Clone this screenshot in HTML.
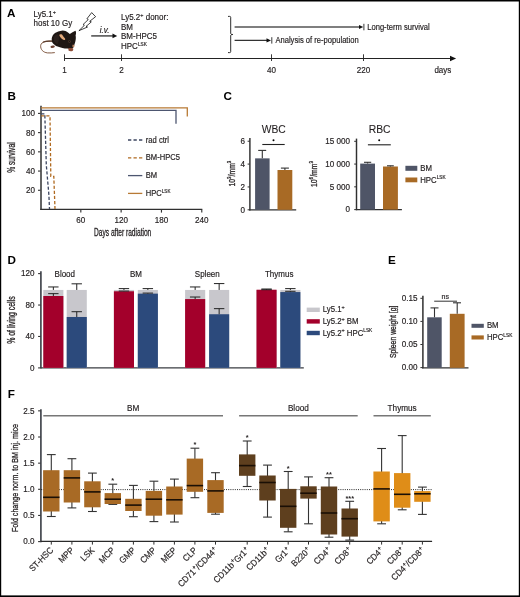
<!DOCTYPE html>
<html><head><meta charset="utf-8"><style>
html,body{margin:0;padding:0;background:#fff;}
body{width:520px;height:597px;overflow:hidden;}
svg{display:block;will-change:transform;font-family:"Liberation Sans",sans-serif;}
</style></head><body>
<svg width="520" height="597" viewBox="0 0 520 597">
<rect x="0" y="0" width="520" height="597" fill="#fff"/>
<text x="7" y="17.2" font-size="11.7" text-anchor="start" font-weight="bold"  fill="#000" >A</text>
<text x="33.5" y="17.2" font-size="8.8" text-anchor="start" font-weight="normal"  fill="#231f20" stroke="#231f20" stroke-width="0.18"  transform="matrix(0.91,0,0,1,3.015,0)">Ly5.1<tspan font-size="6" baseline-shift="3.2">+</tspan></text>
<text x="33.5" y="26.3" font-size="8.8" text-anchor="start" font-weight="normal"  fill="#231f20" stroke="#231f20" stroke-width="0.18"  transform="matrix(0.91,0,0,1,3.015,0)">host 10 Gy</text>
<g>
<path d="M52.5,41.2 C47,40.8 41.2,41.6 40.7,45.4 C40.3,49.4 43,52.4 47.5,52.9 C50,53.1 52.5,52.9 54.8,52.6" fill="none" stroke="#7a5038" stroke-width="0.95"/>
<path d="M52.5,41.2 C49,40.9 45.5,41 43.5,42" fill="none" stroke="#5a3a2a" stroke-width="1.3" stroke-linecap="round"/>
<path d="M51.7,38.7 C51.9,36.8 53,34.3 55.4,32.8 C57,31.7 59,30.9 62.8,30.4 C64.5,30.4 66.5,31.2 68.3,32.8 L69.8,34.1 C71.5,32.8 73.5,31.6 75.4,30.8 C76.2,31.5 76.2,33.5 75.6,35.6 C76,37 75.9,39.5 75.4,41.2 C75.1,42.4 74.8,43.4 74.5,44.2 C74.2,45.3 74,46 73.8,46.7 C73.4,47.4 73,47.9 72.6,48.2 L68.3,48.8 C67.8,48.7 67.4,48.6 67,48.6 C65.5,48.4 64,48.2 62.5,47.9 C60.7,47.5 59,47.1 57.6,46.6 C56.4,46.1 55.5,45.5 54.8,44.9 C53.6,44.1 52.8,43.4 52.3,42.4 C51.9,41.3 51.6,40 51.7,38.7 Z" fill="#1f1714"/>
<path d="M54,37 C55,35 57,34 58.5,35 C59.5,38 59,41.5 57.5,44 C56,44 54.5,42.5 54,40.5 Z" fill="#3a2e2a" opacity="0.45"/>
<path d="M59.3,34.8 C59.8,34 61.2,33.9 62,34.6 C62.8,36 63.8,37.3 65,38.4 C65.6,39.2 65,40.1 64,39.9 C62.4,39.5 61,38.2 60,36.8 C59.6,36.2 59.3,35.5 59.3,34.8 Z" fill="#e2a97b"/>
<path d="M72.4,44.8 C73.3,44.4 74.6,44.9 74.5,46.1 C74.3,47.2 73.3,47.6 72.5,47.1 Z" fill="#b8805e"/>
<path d="M68.3,48.3 C69.6,47.9 71.2,48 72.8,48.3 C73.6,48.8 73.4,50.4 72.4,51.1 C71,51.6 69.3,51.4 68.5,50.6 Z" fill="#8e4d38"/>
<path d="M50.5,46.4 C51.4,45.4 53.5,45.3 54.8,45.9 C55,47.2 53.8,47.9 52.2,47.9 C51,47.9 50.3,47.3 50.5,46.4 Z" fill="#6b3f30"/>
<circle cx="69.5" cy="41.4" r="1.25" fill="#4e3a2e"/>
<circle cx="69.5" cy="41.4" r="0.6" fill="#1a1210"/>
</g>
<path d="M91.7,12.6 L95.6,16.7 L89.7,21.3 L91.3,21.9 L86,26.5 L87.5,27 L78.9,30.7 L84.4,25.3 L83,24.6 L88.3,19.5 L86.9,18.8 Z" fill="#fff" stroke="#000" stroke-width="0.75" stroke-linejoin="miter"/>
<text x="99.8" y="33" font-size="8.8" text-anchor="start" font-weight="normal" font-style="italic" fill="#231f20" stroke="#231f20" stroke-width="0.18"  transform="matrix(0.91,0,0,1,8.982,0)">i.v.</text>
<line x1="91.2" y1="35.9" x2="113.5" y2="35.9" stroke="#555" stroke-width="1.6" />
<path d="M112.5,33.6 L117.2,35.9 L112.5,38.2 Z" fill="#111"/>
<text x="121" y="20.2" font-size="8.8" text-anchor="start" font-weight="normal"  fill="#231f20" stroke="#231f20" stroke-width="0.18"  transform="matrix(0.91,0,0,1,10.89,0)">Ly5.2<tspan font-size="6" baseline-shift="3.2">+</tspan> donor:</text>
<text x="121" y="29.8" font-size="8.8" text-anchor="start" font-weight="normal"  fill="#231f20" stroke="#231f20" stroke-width="0.18"  transform="matrix(0.91,0,0,1,10.89,0)">BM</text>
<text x="121" y="39.3" font-size="8.8" text-anchor="start" font-weight="normal"  fill="#231f20" stroke="#231f20" stroke-width="0.18"  transform="matrix(0.91,0,0,1,10.89,0)">BM-HPC5</text>
<text x="121" y="48.7" font-size="8.8" text-anchor="start" font-weight="normal"  fill="#231f20" stroke="#231f20" stroke-width="0.18"  transform="matrix(0.91,0,0,1,10.89,0)">HPC<tspan font-size="5.2" baseline-shift="3.2">LSK</tspan></text>
<path d="M228,16.4 H229.7 Q230.7,16.4 230.7,17.4 V33.6 Q230.7,34.4 232.8,34.5 Q230.7,34.6 230.7,35.4 V51.6 Q230.7,52.6 229.7,52.6 H228" fill="none" stroke="#222" stroke-width="0.95"/>
<line x1="234.6" y1="27" x2="360.5" y2="27" stroke="#555" stroke-width="1.3" />
<path d="M359,24.9 L363.3,27 L359,29.1 Z" fill="#111"/>
<line x1="363.9" y1="23.8" x2="363.9" y2="30.3" stroke="#222" stroke-width="0.9" />
<text x="367.2" y="29.8" font-size="8.36" text-anchor="start" font-weight="normal"  fill="#231f20" stroke="#231f20" stroke-width="0.18"  transform="matrix(0.91,0,0,1,33.048,0)">Long-term survival</text>
<line x1="234.6" y1="40.4" x2="268" y2="40.4" stroke="#333" stroke-width="1.1" />
<path d="M266.5,38.3 L271,40.4 L266.5,42.5 Z" fill="#111"/>
<line x1="271.8" y1="37.2" x2="271.8" y2="43.6" stroke="#222" stroke-width="0.9" />
<text x="275.4" y="43.1" font-size="8.36" text-anchor="start" font-weight="normal"  fill="#231f20" stroke="#231f20" stroke-width="0.18"  transform="matrix(0.91,0,0,1,24.786,0)">Analysis of re-population</text>
<line x1="64.5" y1="58.5" x2="452.5" y2="58.5" stroke="#222" stroke-width="1.1" />
<path d="M450,55.8 L456.1,58.5 L450,61.2 Z" fill="#111"/>
<line x1="64.5" y1="54.3" x2="64.5" y2="61" stroke="#222" stroke-width="0.9" />
<text x="64.5" y="72.8" font-size="8.91" text-anchor="middle" font-weight="normal"  fill="#231f20" stroke="#231f20" stroke-width="0.18"  transform="matrix(0.91,0,0,1,5.805,0)">1</text>
<line x1="121.5" y1="54.3" x2="121.5" y2="61" stroke="#222" stroke-width="0.9" />
<text x="121.5" y="72.8" font-size="8.91" text-anchor="middle" font-weight="normal"  fill="#231f20" stroke="#231f20" stroke-width="0.18"  transform="matrix(0.91,0,0,1,10.935,0)">2</text>
<line x1="271.5" y1="54.3" x2="271.5" y2="61" stroke="#222" stroke-width="0.9" />
<text x="271.5" y="72.8" font-size="8.91" text-anchor="middle" font-weight="normal"  fill="#231f20" stroke="#231f20" stroke-width="0.18"  transform="matrix(0.91,0,0,1,24.435,0)">40</text>
<line x1="363.5" y1="54.3" x2="363.5" y2="61" stroke="#222" stroke-width="0.9" />
<text x="363.5" y="72.8" font-size="8.91" text-anchor="middle" font-weight="normal"  fill="#231f20" stroke="#231f20" stroke-width="0.18"  transform="matrix(0.91,0,0,1,32.715,0)">220</text>
<text x="434.4" y="72.8" font-size="8.8" text-anchor="start" font-weight="normal"  fill="#231f20" stroke="#231f20" stroke-width="0.18"  transform="matrix(0.91,0,0,1,39.096,0)">days</text>
<text x="7.4" y="99.9" font-size="11.7" text-anchor="start" font-weight="bold"  fill="#000" >B</text>
<line x1="41" y1="105.8" x2="41" y2="210.1" stroke="#303030" stroke-width="1.5" />
<line x1="40.3" y1="209.4" x2="202.3" y2="209.4" stroke="#303030" stroke-width="1.35" />
<line x1="38" y1="190.28" x2="40.5" y2="190.28" stroke="#333" stroke-width="1.1" />
<text x="35" y="193.18" font-size="8.91" text-anchor="end" font-weight="normal"  fill="#231f20" stroke="#231f20" stroke-width="0.18"  transform="matrix(0.91,0,0,1,3.15,0)">20</text>
<line x1="38" y1="171.06" x2="40.5" y2="171.06" stroke="#333" stroke-width="1.1" />
<text x="35" y="173.96" font-size="8.91" text-anchor="end" font-weight="normal"  fill="#231f20" stroke="#231f20" stroke-width="0.18"  transform="matrix(0.91,0,0,1,3.15,0)">40</text>
<line x1="38" y1="151.84" x2="40.5" y2="151.84" stroke="#333" stroke-width="1.1" />
<text x="35" y="154.74" font-size="8.91" text-anchor="end" font-weight="normal"  fill="#231f20" stroke="#231f20" stroke-width="0.18"  transform="matrix(0.91,0,0,1,3.15,0)">60</text>
<line x1="38" y1="132.62" x2="40.5" y2="132.62" stroke="#333" stroke-width="1.1" />
<text x="35" y="135.52" font-size="8.91" text-anchor="end" font-weight="normal"  fill="#231f20" stroke="#231f20" stroke-width="0.18"  transform="matrix(0.91,0,0,1,3.15,0)">80</text>
<line x1="38" y1="113.4" x2="40.5" y2="113.4" stroke="#333" stroke-width="1.1" />
<text x="35" y="116.30000000000001" font-size="8.91" text-anchor="end" font-weight="normal"  fill="#231f20" stroke="#231f20" stroke-width="0.18"  transform="matrix(0.91,0,0,1,3.15,0)">100</text>
<line x1="80.82" y1="209.5" x2="80.82" y2="212.6" stroke="#333" stroke-width="1.15" />
<text x="80.82" y="223" font-size="8.91" text-anchor="middle" font-weight="normal"  fill="#231f20" stroke="#231f20" stroke-width="0.18"  transform="matrix(0.91,0,0,1,7.274,0)">60</text>
<line x1="121.14" y1="209.5" x2="121.14" y2="212.6" stroke="#333" stroke-width="1.15" />
<text x="121.14" y="223" font-size="8.91" text-anchor="middle" font-weight="normal"  fill="#231f20" stroke="#231f20" stroke-width="0.18"  transform="matrix(0.91,0,0,1,10.903,0)">120</text>
<line x1="161.46" y1="209.5" x2="161.46" y2="212.6" stroke="#333" stroke-width="1.15" />
<text x="161.46" y="223" font-size="8.91" text-anchor="middle" font-weight="normal"  fill="#231f20" stroke="#231f20" stroke-width="0.18"  transform="matrix(0.91,0,0,1,14.531,0)">180</text>
<line x1="201.78" y1="209.5" x2="201.78" y2="212.6" stroke="#333" stroke-width="1.15" />
<text x="201.78" y="223" font-size="8.91" text-anchor="middle" font-weight="normal"  fill="#231f20" stroke="#231f20" stroke-width="0.18"  transform="matrix(0.91,0,0,1,18.16,0)">240</text>
<path d="M41,107.8 H187.3 V116.5" fill="none" stroke="#b87a35" stroke-width="1.3"/>
<path d="M41,110.4 H176 V123.8" fill="none" stroke="#4d5670" stroke-width="1.3"/>
<path d="M41.2,113.8 H44.8 L46.3,165 L48.9,195 L49.5,209" fill="none" stroke="#3d4660" stroke-width="1.3" stroke-dasharray="3.2,1.9"/>
<path d="M41.2,115.9 H50 L50.8,176.3 H53.8 L55,209" fill="none" stroke="#b06a20" stroke-width="1.3" stroke-dasharray="3.2,1.9"/>
<line x1="128" y1="140.0" x2="142.3" y2="140.0" stroke="#3d4660" stroke-width="1.3" stroke-dasharray="3.3,2.2"/>
<text x="145.8" y="142.7" font-size="8.36" text-anchor="start" font-weight="normal"  fill="#231f20" stroke="#231f20" stroke-width="0.18"  transform="matrix(0.91,0,0,1,13.122,0)">rad ctrl</text>
<line x1="128" y1="157.8" x2="142.3" y2="157.8" stroke="#b06a20" stroke-width="1.3" stroke-dasharray="3.3,2.2"/>
<text x="145.8" y="160.5" font-size="8.36" text-anchor="start" font-weight="normal"  fill="#231f20" stroke="#231f20" stroke-width="0.18"  transform="matrix(0.91,0,0,1,13.122,0)">BM-HPC5</text>
<line x1="128" y1="175.6" x2="142.3" y2="175.6" stroke="#4d5670" stroke-width="1.3" />
<text x="145.8" y="178.29999999999998" font-size="8.36" text-anchor="start" font-weight="normal"  fill="#231f20" stroke="#231f20" stroke-width="0.18"  transform="matrix(0.91,0,0,1,13.122,0)">BM</text>
<line x1="128" y1="193.4" x2="142.3" y2="193.4" stroke="#b87a35" stroke-width="1.3" />
<text x="145.8" y="196.1" font-size="8.36" text-anchor="start" font-weight="normal"  fill="#231f20" stroke="#231f20" stroke-width="0.18"  transform="matrix(0.91,0,0,1,13.122,0)">HPC<tspan font-size="5" baseline-shift="2.8">LSK</tspan></text>
<text x="0" y="0" font-size="10" text-anchor="middle" font-weight="normal"  fill="#231f20" stroke="#231f20" stroke-width="0.3" transform="translate(14.9,157.6) rotate(-90)" textLength="30.5" lengthAdjust="spacingAndGlyphs">% survival</text>
<text x="94" y="235.8" font-size="10" text-anchor="start" font-weight="normal"  fill="#231f20" stroke="#231f20" stroke-width="0.3" textLength="57.3" lengthAdjust="spacingAndGlyphs">Days after radiation</text>
<text x="223.4" y="100.1" font-size="11.7" text-anchor="start" font-weight="bold"  fill="#000" >C</text>
<line x1="249.9" y1="138" x2="249.9" y2="210.4" stroke="#303030" stroke-width="1.45" />
<line x1="249.2" y1="209.8" x2="296.2" y2="209.8" stroke="#303030" stroke-width="1.35" />
<line x1="247.6" y1="209.8" x2="249.8" y2="209.8" stroke="#303030" stroke-width="1" />
<text x="245" y="212.70000000000002" font-size="8.91" text-anchor="end" font-weight="normal"  fill="#231f20" stroke="#231f20" stroke-width="0.18"  transform="matrix(0.91,0,0,1,22.05,0)">0</text>
<line x1="247.6" y1="186.94" x2="249.8" y2="186.94" stroke="#303030" stroke-width="1" />
<text x="245" y="189.84" font-size="8.91" text-anchor="end" font-weight="normal"  fill="#231f20" stroke="#231f20" stroke-width="0.18"  transform="matrix(0.91,0,0,1,22.05,0)">2</text>
<line x1="247.6" y1="164.08" x2="249.8" y2="164.08" stroke="#303030" stroke-width="1" />
<text x="245" y="166.98000000000002" font-size="8.91" text-anchor="end" font-weight="normal"  fill="#231f20" stroke="#231f20" stroke-width="0.18"  transform="matrix(0.91,0,0,1,22.05,0)">4</text>
<line x1="247.6" y1="141.22000000000003" x2="249.8" y2="141.22000000000003" stroke="#303030" stroke-width="1" />
<text x="245" y="144.12000000000003" font-size="8.91" text-anchor="end" font-weight="normal"  fill="#231f20" stroke="#231f20" stroke-width="0.18"  transform="matrix(0.91,0,0,1,22.05,0)">6</text>
<text x="273.8" y="132.9" font-size="10.9" text-anchor="middle" font-weight="normal"  fill="#231f20" stroke="#231f20" stroke-width="0.1" textLength="24" lengthAdjust="spacingAndGlyphs">WBC</text>
<line x1="262.3" y1="144.5" x2="284.7" y2="144.5" stroke="#222" stroke-width="1.1" />
<circle cx="273.5" cy="140.2" r="1" fill="#000"/>
<rect x="255.1" y="158.365" width="14.5" height="51.435" fill="#4f5567" />
<line x1="262.3" y1="158.365" x2="262.3" y2="150.4" stroke="#333" stroke-width="1.1" />
<line x1="258.2" y1="150.4" x2="266.2" y2="150.4" stroke="#333" stroke-width="1.1" />
<rect x="277.5" y="170" width="14.8" height="39.8" fill="#a86a25" />
<line x1="284.9" y1="170" x2="284.9" y2="168.1" stroke="#333" stroke-width="1.1" />
<line x1="280.9" y1="168.1" x2="288.9" y2="168.1" stroke="#333" stroke-width="1.1" />
<text x="0" y="0" font-size="9" text-anchor="middle" font-weight="normal"  fill="#231f20" stroke="#231f20" stroke-width="0.3" transform="translate(235.3,173.6) rotate(-90)" textLength="26" lengthAdjust="spacingAndGlyphs">10<tspan font-size="6" baseline-shift="4">3</tspan>/mm<tspan font-size="6" baseline-shift="4">3</tspan></text>
<line x1="356.5" y1="138.6" x2="356.5" y2="210.2" stroke="#303030" stroke-width="1.45" />
<line x1="355.8" y1="209.6" x2="401.9" y2="209.6" stroke="#303030" stroke-width="1.35" />
<line x1="354.2" y1="209.6" x2="356.4" y2="209.6" stroke="#303030" stroke-width="1" />
<text x="350" y="212.5" font-size="8.91" text-anchor="end" font-weight="normal"  fill="#231f20" stroke="#231f20" stroke-width="0.18"  transform="matrix(0.91,0,0,1,31.5,0)">0</text>
<line x1="354.2" y1="186.835" x2="356.4" y2="186.835" stroke="#303030" stroke-width="1" />
<text x="350" y="189.735" font-size="8.91" text-anchor="end" font-weight="normal"  fill="#231f20" stroke="#231f20" stroke-width="0.18"  transform="matrix(0.91,0,0,1,31.5,0)">5 000</text>
<line x1="354.2" y1="164.07" x2="356.4" y2="164.07" stroke="#303030" stroke-width="1" />
<text x="350" y="166.97" font-size="8.91" text-anchor="end" font-weight="normal"  fill="#231f20" stroke="#231f20" stroke-width="0.18"  transform="matrix(0.91,0,0,1,31.5,0)">10 000</text>
<line x1="354.2" y1="141.305" x2="356.4" y2="141.305" stroke="#303030" stroke-width="1" />
<text x="350" y="144.205" font-size="8.91" text-anchor="end" font-weight="normal"  fill="#231f20" stroke="#231f20" stroke-width="0.18"  transform="matrix(0.91,0,0,1,31.5,0)">15 000</text>
<text x="379.6" y="133" font-size="10.9" text-anchor="middle" font-weight="normal"  fill="#231f20" stroke="#231f20" stroke-width="0.1" textLength="21.8" lengthAdjust="spacingAndGlyphs">RBC</text>
<line x1="367.9" y1="144.8" x2="390.8" y2="144.8" stroke="#222" stroke-width="1.1" />
<circle cx="379.2" cy="140.2" r="1" fill="#000"/>
<rect x="360.2" y="163.6" width="14.8" height="46" fill="#4f5567" />
<line x1="367.6" y1="163.6" x2="367.6" y2="162.3" stroke="#333" stroke-width="1.1" />
<line x1="364" y1="162.3" x2="371.2" y2="162.3" stroke="#333" stroke-width="1.1" />
<rect x="383" y="166.5" width="14.9" height="43.1" fill="#a86a25" />
<line x1="390.4" y1="166.5" x2="390.4" y2="165.8" stroke="#333" stroke-width="1.1" />
<line x1="387" y1="165.8" x2="393.8" y2="165.8" stroke="#333" stroke-width="1.1" />
<text x="0" y="0" font-size="9" text-anchor="middle" font-weight="normal"  fill="#231f20" stroke="#231f20" stroke-width="0.3" transform="translate(316.8,174) rotate(-90)" textLength="26" lengthAdjust="spacingAndGlyphs">10<tspan font-size="6" baseline-shift="4">6</tspan>/mm<tspan font-size="6" baseline-shift="4">3</tspan></text>
<rect x="405.4" y="165.8" width="11.9" height="5" fill="#4f5567" />
<text x="420.2" y="171" font-size="8.58" text-anchor="start" font-weight="normal"  fill="#231f20" stroke="#231f20" stroke-width="0.18"  transform="matrix(0.91,0,0,1,37.818,0)">BM</text>
<rect x="405.4" y="177.5" width="11.9" height="4.8" fill="#a86a25" />
<text x="420.2" y="182.6" font-size="8.58" text-anchor="start" font-weight="normal"  fill="#231f20" stroke="#231f20" stroke-width="0.18"  transform="matrix(0.91,0,0,1,37.818,0)">HPC<tspan font-size="5.2" baseline-shift="3">LSK</tspan></text>
<text x="7.5" y="264.1" font-size="11.7" text-anchor="start" font-weight="bold"  fill="#000" >D</text>
<line x1="40.9" y1="271.3" x2="40.9" y2="368.5" stroke="#45484f" stroke-width="1.7" />
<line x1="40.6" y1="367.9" x2="303.8" y2="367.9" stroke="#3a3c42" stroke-width="1.3" />
<line x1="38.1" y1="367.9" x2="40.5" y2="367.9" stroke="#333" stroke-width="1.1" />
<text x="34.6" y="370.79999999999995" font-size="8.91" text-anchor="end" font-weight="normal"  fill="#231f20" stroke="#231f20" stroke-width="0.18"  transform="matrix(0.91,0,0,1,3.114,0)">0</text>
<line x1="38.1" y1="336.46799999999996" x2="40.5" y2="336.46799999999996" stroke="#333" stroke-width="1.1" />
<text x="34.6" y="339.36799999999994" font-size="8.91" text-anchor="end" font-weight="normal"  fill="#231f20" stroke="#231f20" stroke-width="0.18"  transform="matrix(0.91,0,0,1,3.114,0)">40</text>
<line x1="38.1" y1="305.03599999999994" x2="40.5" y2="305.03599999999994" stroke="#333" stroke-width="1.1" />
<text x="34.6" y="307.9359999999999" font-size="8.91" text-anchor="end" font-weight="normal"  fill="#231f20" stroke="#231f20" stroke-width="0.18"  transform="matrix(0.91,0,0,1,3.114,0)">80</text>
<line x1="38.1" y1="273.604" x2="40.5" y2="273.604" stroke="#333" stroke-width="1.1" />
<text x="34.6" y="276.50399999999996" font-size="8.91" text-anchor="end" font-weight="normal"  fill="#231f20" stroke="#231f20" stroke-width="0.18"  transform="matrix(0.91,0,0,1,3.114,0)">120</text>
<text x="0" y="0" font-size="10" text-anchor="middle" font-weight="normal"  fill="#231f20" stroke="#231f20" stroke-width="0.3" transform="translate(14.9,320.1) rotate(-90)" textLength="47.5" lengthAdjust="spacingAndGlyphs">% of living cells</text>
<rect x="43.3" y="289.94863999999995" width="20.1" height="77.95136000000002" fill="#c8c7cc" />
<rect x="43.3" y="295.99929999999995" width="20.1" height="71.90070000000003" fill="#a3002b" />
<line x1="53.349999999999994" y1="289.94863999999995" x2="53.349999999999994" y2="286.96259999999995" stroke="#222" stroke-width="1" />
<line x1="48.14999999999999" y1="286.96259999999995" x2="58.55" y2="286.96259999999995" stroke="#222" stroke-width="1" />
<line x1="53.349999999999994" y1="295.99929999999995" x2="53.349999999999994" y2="293.64189999999996" stroke="#222" stroke-width="1" />
<line x1="48.14999999999999" y1="293.64189999999996" x2="58.55" y2="293.64189999999996" stroke="#222" stroke-width="1" />
<rect x="66.7" y="289.94863999999995" width="20.1" height="77.95136000000002" fill="#c8c7cc" />
<rect x="66.7" y="316.98015999999996" width="20.1" height="50.91984000000002" fill="#2c4a7c" />
<line x1="76.75" y1="289.94863999999995" x2="76.75" y2="283.8194" stroke="#222" stroke-width="1" />
<line x1="71.55" y1="283.8194" x2="81.95" y2="283.8194" stroke="#222" stroke-width="1" />
<line x1="76.75" y1="316.98015999999996" x2="76.75" y2="311.71529999999996" stroke="#222" stroke-width="1" />
<line x1="71.55" y1="311.71529999999996" x2="81.95" y2="311.71529999999996" stroke="#222" stroke-width="1" />
<rect x="113.9" y="289.94863999999995" width="20.1" height="77.95136000000002" fill="#c8c7cc" />
<rect x="113.9" y="291.2845" width="20.1" height="76.6155" fill="#a3002b" />
<line x1="123.95" y1="289.94863999999995" x2="123.95" y2="288.61278" stroke="#222" stroke-width="1" />
<line x1="118.75" y1="288.61278" x2="129.15" y2="288.61278" stroke="#222" stroke-width="1" />
<line x1="123.95" y1="291.2845" x2="123.95" y2="291.04875999999996" stroke="#222" stroke-width="1" />
<line x1="118.75" y1="291.04875999999996" x2="129.15" y2="291.04875999999996" stroke="#222" stroke-width="1" />
<rect x="137.8" y="289.94863999999995" width="20.1" height="77.95136000000002" fill="#c8c7cc" />
<rect x="137.8" y="293.64189999999996" width="20.1" height="74.25810000000001" fill="#2c4a7c" />
<line x1="147.85000000000002" y1="289.94863999999995" x2="147.85000000000002" y2="288.61278" stroke="#222" stroke-width="1" />
<line x1="142.65000000000003" y1="288.61278" x2="153.05" y2="288.61278" stroke="#222" stroke-width="1" />
<line x1="147.85000000000002" y1="293.64189999999996" x2="147.85000000000002" y2="293.09184" stroke="#222" stroke-width="1" />
<line x1="142.65000000000003" y1="293.09184" x2="153.05" y2="293.09184" stroke="#222" stroke-width="1" />
<rect x="185.1" y="289.94863999999995" width="20.1" height="77.95136000000002" fill="#c8c7cc" />
<rect x="185.1" y="299.06392" width="20.1" height="68.83607999999998" fill="#a3002b" />
<line x1="195.15" y1="289.94863999999995" x2="195.15" y2="286.96259999999995" stroke="#222" stroke-width="1" />
<line x1="189.95000000000002" y1="286.96259999999995" x2="200.35" y2="286.96259999999995" stroke="#222" stroke-width="1" />
<line x1="195.15" y1="299.06392" x2="195.15" y2="297.02083999999996" stroke="#222" stroke-width="1" />
<line x1="189.95000000000002" y1="297.02083999999996" x2="200.35" y2="297.02083999999996" stroke="#222" stroke-width="1" />
<rect x="209.1" y="289.94863999999995" width="20.1" height="77.95136000000002" fill="#c8c7cc" />
<rect x="209.1" y="314.22986" width="20.1" height="53.67014" fill="#2c4a7c" />
<line x1="219.15" y1="289.94863999999995" x2="219.15" y2="283.58366" stroke="#222" stroke-width="1" />
<line x1="213.95000000000002" y1="283.58366" x2="224.35" y2="283.58366" stroke="#222" stroke-width="1" />
<line x1="219.15" y1="314.22986" x2="219.15" y2="308.65067999999997" stroke="#222" stroke-width="1" />
<line x1="213.95000000000002" y1="308.65067999999997" x2="224.35" y2="308.65067999999997" stroke="#222" stroke-width="1" />
<rect x="256.5" y="289.94863999999995" width="20.1" height="77.95136000000002" fill="#c8c7cc" />
<rect x="256.5" y="289.7129" width="20.1" height="78.18709999999999" fill="#a3002b" />
<line x1="266.55" y1="289.94863999999995" x2="266.55" y2="289.00568" stroke="#222" stroke-width="1" />
<line x1="261.35" y1="289.00568" x2="271.75" y2="289.00568" stroke="#222" stroke-width="1" />
<line x1="266.55" y1="289.7129" x2="266.55" y2="289.7129" stroke="#222" stroke-width="1" />
<line x1="261.35" y1="289.7129" x2="271.75" y2="289.7129" stroke="#222" stroke-width="1" />
<rect x="280.3" y="289.94863999999995" width="20.1" height="77.95136000000002" fill="#c8c7cc" />
<rect x="280.3" y="292.0703" width="20.1" height="75.8297" fill="#2c4a7c" />
<line x1="290.35" y1="289.94863999999995" x2="290.35" y2="288.61278" stroke="#222" stroke-width="1" />
<line x1="285.15000000000003" y1="288.61278" x2="295.55" y2="288.61278" stroke="#222" stroke-width="1" />
<line x1="290.35" y1="292.0703" x2="290.35" y2="291.2845" stroke="#222" stroke-width="1" />
<line x1="285.15000000000003" y1="291.2845" x2="295.55" y2="291.2845" stroke="#222" stroke-width="1" />
<text x="64.8" y="276.7" font-size="8.8" text-anchor="middle" font-weight="normal"  fill="#231f20" stroke="#231f20" stroke-width="0.18"  transform="matrix(0.91,0,0,1,5.832,0)">Blood</text>
<text x="136" y="276.7" font-size="8.8" text-anchor="middle" font-weight="normal"  fill="#231f20" stroke="#231f20" stroke-width="0.18"  transform="matrix(0.91,0,0,1,12.24,0)">BM</text>
<text x="207.3" y="276.7" font-size="8.8" text-anchor="middle" font-weight="normal"  fill="#231f20" stroke="#231f20" stroke-width="0.18"  transform="matrix(0.91,0,0,1,18.657,0)">Spleen</text>
<text x="279.2" y="276.7" font-size="8.8" text-anchor="middle" font-weight="normal"  fill="#231f20" stroke="#231f20" stroke-width="0.18"  transform="matrix(0.91,0,0,1,25.128,0)">Thymus</text>
<rect x="306.7" y="307.6" width="13.1" height="4.4" fill="#c8c7cc" />
<text x="322.7" y="312.40000000000003" font-size="8.58" text-anchor="start" font-weight="normal"  fill="#231f20" stroke="#231f20" stroke-width="0.18"  transform="matrix(0.91,0,0,1,29.043,0)">Ly5.1<tspan font-size="6" baseline-shift="3.2">+</tspan></text>
<rect x="306.7" y="319.20000000000005" width="13.1" height="4.4" fill="#a3002b" />
<text x="322.7" y="324.00000000000006" font-size="8.58" text-anchor="start" font-weight="normal"  fill="#231f20" stroke="#231f20" stroke-width="0.18"  transform="matrix(0.91,0,0,1,29.043,0)">Ly5.2<tspan font-size="6" baseline-shift="3.2">+</tspan> BM</text>
<rect x="306.7" y="330.8" width="13.1" height="4.4" fill="#2c4a7c" />
<text x="322.7" y="335.6" font-size="8.58" text-anchor="start" font-weight="normal"  fill="#231f20" stroke="#231f20" stroke-width="0.18"  transform="matrix(0.91,0,0,1,29.043,0)">Ly5.2<tspan font-size="6" baseline-shift="3.2">+</tspan> HPC<tspan font-size="5.2" baseline-shift="3">LSK</tspan></text>
<text x="388" y="264.4" font-size="11.7" text-anchor="start" font-weight="bold"  fill="#000" >E</text>
<line x1="422.9" y1="295.8" x2="422.9" y2="368.2" stroke="#303030" stroke-width="1.5" />
<line x1="422" y1="367.8" x2="468.5" y2="367.8" stroke="#303030" stroke-width="1.35" />
<line x1="420.4" y1="367.6" x2="422.6" y2="367.6" stroke="#303030" stroke-width="1" />
<text x="417.4" y="370.5" font-size="8.91" text-anchor="end" font-weight="normal"  fill="#231f20" stroke="#231f20" stroke-width="0.18"  transform="matrix(0.91,0,0,1,37.566,0)">0.00</text>
<line x1="420.4" y1="344.5" x2="422.6" y2="344.5" stroke="#303030" stroke-width="1" />
<text x="417.4" y="347.4" font-size="8.91" text-anchor="end" font-weight="normal"  fill="#231f20" stroke="#231f20" stroke-width="0.18"  transform="matrix(0.91,0,0,1,37.566,0)">0.05</text>
<line x1="420.4" y1="321.40000000000003" x2="422.6" y2="321.40000000000003" stroke="#303030" stroke-width="1" />
<text x="417.4" y="324.3" font-size="8.91" text-anchor="end" font-weight="normal"  fill="#231f20" stroke="#231f20" stroke-width="0.18"  transform="matrix(0.91,0,0,1,37.566,0)">0.10</text>
<line x1="420.4" y1="298.3" x2="422.6" y2="298.3" stroke="#303030" stroke-width="1" />
<text x="417.4" y="301.2" font-size="8.91" text-anchor="end" font-weight="normal"  fill="#231f20" stroke="#231f20" stroke-width="0.18"  transform="matrix(0.91,0,0,1,37.566,0)">0.15</text>
<text x="0" y="0" font-size="9.6" text-anchor="middle" font-weight="normal"  fill="#231f20" stroke="#231f20" stroke-width="0.3" transform="translate(395.5,331.8) rotate(-90)" textLength="52.6" lengthAdjust="spacingAndGlyphs">Spleen weight [g]</text>
<rect x="427.2" y="317.3" width="14.5" height="50.5" fill="#4f5567" />
<line x1="434.5" y1="317.3" x2="434.5" y2="307.9" stroke="#333" stroke-width="1.1" />
<line x1="430.5" y1="307.9" x2="438.5" y2="307.9" stroke="#333" stroke-width="1.1" />
<rect x="449.8" y="313.8" width="14.8" height="54" fill="#a86a25" />
<line x1="457.2" y1="313.8" x2="457.2" y2="302.8" stroke="#333" stroke-width="1.1" />
<line x1="453" y1="302.8" x2="461" y2="302.8" stroke="#333" stroke-width="1.1" />
<line x1="434.2" y1="301.2" x2="457" y2="301.2" stroke="#333" stroke-width="1" />
<text x="445.3" y="298.6" font-size="7.7" text-anchor="middle" font-weight="normal"  fill="#231f20" stroke="#231f20" stroke-width="0.18"  transform="matrix(0.91,0,0,1,40.077,0)">ns</text>
<rect x="471.5" y="323.8" width="12.3" height="4" fill="#4f5567" />
<text x="486.9" y="328.4" font-size="8.58" text-anchor="start" font-weight="normal"  fill="#231f20" stroke="#231f20" stroke-width="0.18"  transform="matrix(0.91,0,0,1,43.821,0)">BM</text>
<rect x="471.5" y="335.4" width="12.3" height="4.1" fill="#a86a25" />
<text x="486.9" y="340.2" font-size="8.58" text-anchor="start" font-weight="normal"  fill="#231f20" stroke="#231f20" stroke-width="0.18"  transform="matrix(0.91,0,0,1,43.821,0)">HPC<tspan font-size="5.2" baseline-shift="3">LSK</tspan></text>
<text x="7.7" y="398.1" font-size="11.7" text-anchor="start" font-weight="bold"  fill="#000" >F</text>
<line x1="40.9" y1="409.2" x2="40.9" y2="542.2" stroke="#45484f" stroke-width="1.7" />
<line x1="40.6" y1="541.4" x2="432.1" y2="541.4" stroke="#2a2a2a" stroke-width="1.3" />
<line x1="38.1" y1="541.6" x2="40.5" y2="541.6" stroke="#333" stroke-width="1.1" />
<text x="34.6" y="544.5" font-size="8.91" text-anchor="end" font-weight="normal"  fill="#231f20" stroke="#231f20" stroke-width="0.18"  transform="matrix(0.91,0,0,1,3.114,0)">0.0</text>
<line x1="38.1" y1="515.45" x2="40.5" y2="515.45" stroke="#333" stroke-width="1.1" />
<text x="34.6" y="518.35" font-size="8.91" text-anchor="end" font-weight="normal"  fill="#231f20" stroke="#231f20" stroke-width="0.18"  transform="matrix(0.91,0,0,1,3.114,0)">0.5</text>
<line x1="38.1" y1="489.3" x2="40.5" y2="489.3" stroke="#333" stroke-width="1.1" />
<text x="34.6" y="492.2" font-size="8.91" text-anchor="end" font-weight="normal"  fill="#231f20" stroke="#231f20" stroke-width="0.18"  transform="matrix(0.91,0,0,1,3.114,0)">1.0</text>
<line x1="38.1" y1="463.15000000000003" x2="40.5" y2="463.15000000000003" stroke="#333" stroke-width="1.1" />
<text x="34.6" y="466.05" font-size="8.91" text-anchor="end" font-weight="normal"  fill="#231f20" stroke="#231f20" stroke-width="0.18"  transform="matrix(0.91,0,0,1,3.114,0)">1.5</text>
<line x1="38.1" y1="437.0" x2="40.5" y2="437.0" stroke="#333" stroke-width="1.1" />
<text x="34.6" y="439.9" font-size="8.91" text-anchor="end" font-weight="normal"  fill="#231f20" stroke="#231f20" stroke-width="0.18"  transform="matrix(0.91,0,0,1,3.114,0)">2.0</text>
<line x1="38.1" y1="410.85" x2="40.5" y2="410.85" stroke="#333" stroke-width="1.1" />
<text x="34.6" y="413.75" font-size="8.91" text-anchor="end" font-weight="normal"  fill="#231f20" stroke="#231f20" stroke-width="0.18"  transform="matrix(0.91,0,0,1,3.114,0)">2.5</text>
<text x="0" y="0" font-size="9.5" text-anchor="middle" font-weight="normal"  fill="#231f20" stroke="#231f20" stroke-width="0.3" transform="translate(18.2,478) rotate(-90)" textLength="108" lengthAdjust="spacingAndGlyphs">Fold change norm. to BM inj. mice</text>
<line x1="43.3" y1="415.7" x2="223" y2="415.7" stroke="#777" stroke-width="1.4" />
<text x="133.15" y="410.9" font-size="9.02" text-anchor="middle" font-weight="normal"  fill="#231f20" stroke="#231f20" stroke-width="0.18"  transform="matrix(0.91,0,0,1,11.983,0)">BM</text>
<line x1="239.1" y1="415.7" x2="357.7" y2="415.7" stroke="#777" stroke-width="1.4" />
<text x="298.4" y="410.9" font-size="9.02" text-anchor="middle" font-weight="normal"  fill="#231f20" stroke="#231f20" stroke-width="0.18"  transform="matrix(0.91,0,0,1,26.856,0)">Blood</text>
<line x1="373.5" y1="415.7" x2="430.8" y2="415.7" stroke="#777" stroke-width="1.4" />
<text x="402.15" y="410.9" font-size="9.02" text-anchor="middle" font-weight="normal"  fill="#231f20" stroke="#231f20" stroke-width="0.18"  transform="matrix(0.91,0,0,1,36.193,0)">Thymus</text>
<line x1="41.2" y1="489.6" x2="432" y2="489.6" stroke="#111" stroke-width="0.9" stroke-dasharray="1,1.2"/>
<line x1="51.3" y1="454.6" x2="51.3" y2="516.5" stroke="#333" stroke-width="1.1" />
<line x1="46.9" y1="454.6" x2="55.699999999999996" y2="454.6" stroke="#333" stroke-width="1.1" />
<line x1="46.9" y1="516.5" x2="55.699999999999996" y2="516.5" stroke="#333" stroke-width="1.1" />
<rect x="43.099999999999994" y="470.2" width="16.4" height="41.30000000000001" fill="#a86a25" />
<line x1="43.099999999999994" y1="497.3" x2="59.5" y2="497.3" stroke="#1a0f05" stroke-width="1.6" />
<line x1="51.3" y1="541.4" x2="51.3" y2="544.6" stroke="#303030" stroke-width="1" />
<text x="0" y="0" font-size="8.9" text-anchor="end" font-weight="normal"  fill="#231f20" stroke="#231f20" stroke-width="0.18" transform="translate(53.9,550.8) rotate(-45) scale(0.92,1)">ST-HSC</text>
<line x1="71.9" y1="458.7" x2="71.9" y2="507.9" stroke="#333" stroke-width="1.1" />
<line x1="67.5" y1="458.7" x2="76.30000000000001" y2="458.7" stroke="#333" stroke-width="1.1" />
<line x1="67.5" y1="507.9" x2="76.30000000000001" y2="507.9" stroke="#333" stroke-width="1.1" />
<rect x="63.7" y="470.2" width="16.4" height="32.30000000000001" fill="#a86a25" />
<line x1="63.7" y1="477.9" x2="80.10000000000001" y2="477.9" stroke="#1a0f05" stroke-width="1.6" />
<line x1="71.9" y1="541.4" x2="71.9" y2="544.6" stroke="#303030" stroke-width="1" />
<text x="0" y="0" font-size="8.9" text-anchor="end" font-weight="normal"  fill="#231f20" stroke="#231f20" stroke-width="0.18" transform="translate(74.5,550.8) rotate(-45) scale(0.92,1)">MPP</text>
<line x1="92.4" y1="473.1" x2="92.4" y2="511.5" stroke="#333" stroke-width="1.1" />
<line x1="88.0" y1="473.1" x2="96.80000000000001" y2="473.1" stroke="#333" stroke-width="1.1" />
<line x1="88.0" y1="511.5" x2="96.80000000000001" y2="511.5" stroke="#333" stroke-width="1.1" />
<rect x="84.2" y="481.3" width="16.4" height="26.0" fill="#a86a25" />
<line x1="84.2" y1="491.9" x2="100.60000000000001" y2="491.9" stroke="#1a0f05" stroke-width="1.6" />
<line x1="92.4" y1="541.4" x2="92.4" y2="544.6" stroke="#303030" stroke-width="1" />
<text x="0" y="0" font-size="8.9" text-anchor="end" font-weight="normal"  fill="#231f20" stroke="#231f20" stroke-width="0.18" transform="translate(95.0,550.8) rotate(-45) scale(0.92,1)">LSK</text>
<line x1="112.8" y1="484.2" x2="112.8" y2="504.4" stroke="#333" stroke-width="1.1" />
<line x1="108.39999999999999" y1="484.2" x2="117.2" y2="484.2" stroke="#333" stroke-width="1.1" />
<line x1="108.39999999999999" y1="504.4" x2="117.2" y2="504.4" stroke="#333" stroke-width="1.1" />
<rect x="104.6" y="493.1" width="16.4" height="10.899999999999977" fill="#a86a25" />
<line x1="104.6" y1="499.2" x2="121.0" y2="499.2" stroke="#1a0f05" stroke-width="1.6" />
<text x="112.8" y="483.4" font-size="7.4" text-anchor="middle" font-weight="bold"  fill="#231f20" >*</text>
<line x1="112.8" y1="541.4" x2="112.8" y2="544.6" stroke="#303030" stroke-width="1" />
<text x="0" y="0" font-size="8.9" text-anchor="end" font-weight="normal"  fill="#231f20" stroke="#231f20" stroke-width="0.18" transform="translate(115.39999999999999,550.8) rotate(-45) scale(0.92,1)">MCP</text>
<line x1="133.4" y1="485.4" x2="133.4" y2="516.7" stroke="#333" stroke-width="1.1" />
<line x1="129.0" y1="485.4" x2="137.8" y2="485.4" stroke="#333" stroke-width="1.1" />
<line x1="129.0" y1="516.7" x2="137.8" y2="516.7" stroke="#333" stroke-width="1.1" />
<rect x="125.2" y="498.8" width="16.4" height="12.199999999999989" fill="#a86a25" />
<line x1="125.2" y1="505.1" x2="141.6" y2="505.1" stroke="#1a0f05" stroke-width="1.6" />
<line x1="133.4" y1="541.4" x2="133.4" y2="544.6" stroke="#303030" stroke-width="1" />
<text x="0" y="0" font-size="8.9" text-anchor="end" font-weight="normal"  fill="#231f20" stroke="#231f20" stroke-width="0.18" transform="translate(136.0,550.8) rotate(-45) scale(0.92,1)">GMP</text>
<line x1="153.9" y1="481.2" x2="153.9" y2="521.6" stroke="#333" stroke-width="1.1" />
<line x1="149.5" y1="481.2" x2="158.3" y2="481.2" stroke="#333" stroke-width="1.1" />
<line x1="149.5" y1="521.6" x2="158.3" y2="521.6" stroke="#333" stroke-width="1.1" />
<rect x="145.70000000000002" y="490.9" width="16.4" height="24.800000000000068" fill="#a86a25" />
<line x1="145.70000000000002" y1="499.2" x2="162.1" y2="499.2" stroke="#1a0f05" stroke-width="1.6" />
<line x1="153.9" y1="541.4" x2="153.9" y2="544.6" stroke="#303030" stroke-width="1" />
<text x="0" y="0" font-size="8.9" text-anchor="end" font-weight="normal"  fill="#231f20" stroke="#231f20" stroke-width="0.18" transform="translate(156.5,550.8) rotate(-45) scale(0.92,1)">CMP</text>
<line x1="174.4" y1="479.1" x2="174.4" y2="522.0" stroke="#333" stroke-width="1.1" />
<line x1="170.0" y1="479.1" x2="178.8" y2="479.1" stroke="#333" stroke-width="1.1" />
<line x1="170.0" y1="522.0" x2="178.8" y2="522.0" stroke="#333" stroke-width="1.1" />
<rect x="166.20000000000002" y="486.5" width="16.4" height="28.100000000000023" fill="#a86a25" />
<line x1="166.20000000000002" y1="499.8" x2="182.6" y2="499.8" stroke="#1a0f05" stroke-width="1.6" />
<line x1="174.4" y1="541.4" x2="174.4" y2="544.6" stroke="#303030" stroke-width="1" />
<text x="0" y="0" font-size="8.9" text-anchor="end" font-weight="normal"  fill="#231f20" stroke="#231f20" stroke-width="0.18" transform="translate(177.0,550.8) rotate(-45) scale(0.92,1)">MEP</text>
<line x1="194.9" y1="448.2" x2="194.9" y2="497.7" stroke="#333" stroke-width="1.1" />
<line x1="190.5" y1="448.2" x2="199.3" y2="448.2" stroke="#333" stroke-width="1.1" />
<line x1="190.5" y1="497.7" x2="199.3" y2="497.7" stroke="#333" stroke-width="1.1" />
<rect x="186.70000000000002" y="458.6" width="16.4" height="33.19999999999999" fill="#a86a25" />
<line x1="186.70000000000002" y1="485.6" x2="203.1" y2="485.6" stroke="#1a0f05" stroke-width="1.6" />
<text x="194.9" y="447.4" font-size="7.4" text-anchor="middle" font-weight="bold"  fill="#231f20" >*</text>
<line x1="194.9" y1="541.4" x2="194.9" y2="544.6" stroke="#303030" stroke-width="1" />
<text x="0" y="0" font-size="8.9" text-anchor="end" font-weight="normal"  fill="#231f20" stroke="#231f20" stroke-width="0.18" transform="translate(197.5,550.8) rotate(-45) scale(0.92,1)">CLP</text>
<line x1="215.5" y1="472.7" x2="215.5" y2="514.2" stroke="#333" stroke-width="1.1" />
<line x1="211.1" y1="472.7" x2="219.9" y2="472.7" stroke="#333" stroke-width="1.1" />
<line x1="211.1" y1="514.2" x2="219.9" y2="514.2" stroke="#333" stroke-width="1.1" />
<rect x="207.3" y="480.1" width="16.4" height="32.799999999999955" fill="#a86a25" />
<line x1="207.3" y1="490.9" x2="223.7" y2="490.9" stroke="#1a0f05" stroke-width="1.6" />
<line x1="215.5" y1="541.4" x2="215.5" y2="544.6" stroke="#303030" stroke-width="1" />
<text x="0" y="0" font-size="8.9" text-anchor="end" font-weight="normal"  fill="#231f20" stroke="#231f20" stroke-width="0.18" transform="translate(218.1,550.8) rotate(-45) scale(0.92,1)">CD71<tspan font-size="6.3" baseline-shift="3.5" dx="0.5">+</tspan>/CD44<tspan font-size="6.3" baseline-shift="3.5" dx="0.5">+</tspan></text>
<line x1="247.2" y1="441.0" x2="247.2" y2="486.5" stroke="#333" stroke-width="1.1" />
<line x1="242.79999999999998" y1="441.0" x2="251.6" y2="441.0" stroke="#333" stroke-width="1.1" />
<line x1="242.79999999999998" y1="486.5" x2="251.6" y2="486.5" stroke="#333" stroke-width="1.1" />
<rect x="239.0" y="454.4" width="16.4" height="21.400000000000034" fill="#5e3f1e" />
<line x1="239.0" y1="465.6" x2="255.39999999999998" y2="465.6" stroke="#1a0f05" stroke-width="1.6" />
<text x="247.2" y="440.2" font-size="7.4" text-anchor="middle" font-weight="bold"  fill="#231f20" >*</text>
<line x1="247.2" y1="541.4" x2="247.2" y2="544.6" stroke="#303030" stroke-width="1" />
<text x="0" y="0" font-size="8.9" text-anchor="end" font-weight="normal"  fill="#231f20" stroke="#231f20" stroke-width="0.18" transform="translate(249.79999999999998,550.8) rotate(-45) scale(0.92,1)">CD11b<tspan font-size="6.3" baseline-shift="3.5" dx="0.5">+</tspan>Gr1<tspan font-size="6.3" baseline-shift="3.5" dx="0.5">+</tspan></text>
<line x1="267.5" y1="465.1" x2="267.5" y2="517.1" stroke="#333" stroke-width="1.1" />
<line x1="263.1" y1="465.1" x2="271.9" y2="465.1" stroke="#333" stroke-width="1.1" />
<line x1="263.1" y1="517.1" x2="271.9" y2="517.1" stroke="#333" stroke-width="1.1" />
<rect x="259.3" y="475.5" width="16.4" height="25.0" fill="#5e3f1e" />
<line x1="259.3" y1="482.5" x2="275.7" y2="482.5" stroke="#1a0f05" stroke-width="1.6" />
<line x1="267.5" y1="541.4" x2="267.5" y2="544.6" stroke="#303030" stroke-width="1" />
<text x="0" y="0" font-size="8.9" text-anchor="end" font-weight="normal"  fill="#231f20" stroke="#231f20" stroke-width="0.18" transform="translate(270.1,550.8) rotate(-45) scale(0.92,1)">CD11b<tspan font-size="6.3" baseline-shift="3.5" dx="0.5">+</tspan></text>
<line x1="288.2" y1="471.5" x2="288.2" y2="531.8" stroke="#333" stroke-width="1.1" />
<line x1="283.8" y1="471.5" x2="292.59999999999997" y2="471.5" stroke="#333" stroke-width="1.1" />
<line x1="283.8" y1="531.8" x2="292.59999999999997" y2="531.8" stroke="#333" stroke-width="1.1" />
<rect x="280.0" y="488.9" width="16.4" height="38.89999999999998" fill="#5e3f1e" />
<line x1="280.0" y1="506.3" x2="296.4" y2="506.3" stroke="#1a0f05" stroke-width="1.6" />
<text x="288.2" y="470.7" font-size="7.4" text-anchor="middle" font-weight="bold"  fill="#231f20" >*</text>
<line x1="288.2" y1="541.4" x2="288.2" y2="544.6" stroke="#303030" stroke-width="1" />
<text x="0" y="0" font-size="8.9" text-anchor="end" font-weight="normal"  fill="#231f20" stroke="#231f20" stroke-width="0.18" transform="translate(290.8,550.8) rotate(-45) scale(0.92,1)">Gr1<tspan font-size="6.3" baseline-shift="3.5" dx="0.5">+</tspan></text>
<line x1="308.5" y1="476.9" x2="308.5" y2="523.8" stroke="#333" stroke-width="1.1" />
<line x1="304.1" y1="476.9" x2="312.9" y2="476.9" stroke="#333" stroke-width="1.1" />
<line x1="304.1" y1="523.8" x2="312.9" y2="523.8" stroke="#333" stroke-width="1.1" />
<rect x="300.3" y="486.3" width="16.4" height="12.300000000000011" fill="#5e3f1e" />
<line x1="300.3" y1="493.2" x2="316.7" y2="493.2" stroke="#1a0f05" stroke-width="1.6" />
<line x1="308.5" y1="541.4" x2="308.5" y2="544.6" stroke="#303030" stroke-width="1" />
<text x="0" y="0" font-size="8.9" text-anchor="end" font-weight="normal"  fill="#231f20" stroke="#231f20" stroke-width="0.18" transform="translate(311.1,550.8) rotate(-45) scale(0.92,1)">B220<tspan font-size="6.3" baseline-shift="3.5" dx="0.5">+</tspan></text>
<line x1="329.0" y1="477.7" x2="329.0" y2="537.2" stroke="#333" stroke-width="1.1" />
<line x1="324.6" y1="477.7" x2="333.4" y2="477.7" stroke="#333" stroke-width="1.1" />
<line x1="324.6" y1="537.2" x2="333.4" y2="537.2" stroke="#333" stroke-width="1.1" />
<rect x="320.8" y="486.5" width="16.4" height="48.0" fill="#5e3f1e" />
<line x1="320.8" y1="513.0" x2="337.2" y2="513.0" stroke="#1a0f05" stroke-width="1.6" />
<text x="329.0" y="476.9" font-size="7.4" text-anchor="middle" font-weight="bold"  fill="#231f20" >**</text>
<line x1="329.0" y1="541.4" x2="329.0" y2="544.6" stroke="#303030" stroke-width="1" />
<text x="0" y="0" font-size="8.9" text-anchor="end" font-weight="normal"  fill="#231f20" stroke="#231f20" stroke-width="0.18" transform="translate(331.6,550.8) rotate(-45) scale(0.92,1)">CD4<tspan font-size="6.3" baseline-shift="3.5" dx="0.5">+</tspan></text>
<line x1="349.7" y1="501.3" x2="349.7" y2="540.1" stroke="#333" stroke-width="1.1" />
<line x1="345.3" y1="501.3" x2="354.09999999999997" y2="501.3" stroke="#333" stroke-width="1.1" />
<line x1="345.3" y1="540.1" x2="354.09999999999997" y2="540.1" stroke="#333" stroke-width="1.1" />
<rect x="341.5" y="508.5" width="16.4" height="28.100000000000023" fill="#5e3f1e" />
<line x1="341.5" y1="518.7" x2="357.9" y2="518.7" stroke="#1a0f05" stroke-width="1.6" />
<text x="349.7" y="500.5" font-size="7.4" text-anchor="middle" font-weight="bold"  fill="#231f20" >***</text>
<line x1="349.7" y1="541.4" x2="349.7" y2="544.6" stroke="#303030" stroke-width="1" />
<text x="0" y="0" font-size="8.9" text-anchor="end" font-weight="normal"  fill="#231f20" stroke="#231f20" stroke-width="0.18" transform="translate(352.3,550.8) rotate(-45) scale(0.92,1)">CD8<tspan font-size="6.3" baseline-shift="3.5" dx="0.5">+</tspan></text>
<line x1="381.6" y1="448.5" x2="381.6" y2="523.8" stroke="#333" stroke-width="1.1" />
<line x1="377.20000000000005" y1="448.5" x2="386.0" y2="448.5" stroke="#333" stroke-width="1.1" />
<line x1="377.20000000000005" y1="523.8" x2="386.0" y2="523.8" stroke="#333" stroke-width="1.1" />
<rect x="373.40000000000003" y="471.5" width="16.4" height="49.89999999999998" fill="#df8d18" />
<line x1="373.40000000000003" y1="488.9" x2="389.8" y2="488.9" stroke="#1a0f05" stroke-width="1.6" />
<line x1="381.6" y1="541.4" x2="381.6" y2="544.6" stroke="#303030" stroke-width="1" />
<text x="0" y="0" font-size="8.9" text-anchor="end" font-weight="normal"  fill="#231f20" stroke="#231f20" stroke-width="0.18" transform="translate(384.20000000000005,550.8) rotate(-45) scale(0.92,1)">CD4<tspan font-size="6.3" baseline-shift="3.5" dx="0.5">+</tspan></text>
<line x1="402.2" y1="435.6" x2="402.2" y2="509.8" stroke="#333" stroke-width="1.1" />
<line x1="397.8" y1="435.6" x2="406.59999999999997" y2="435.6" stroke="#333" stroke-width="1.1" />
<line x1="397.8" y1="509.8" x2="406.59999999999997" y2="509.8" stroke="#333" stroke-width="1.1" />
<rect x="394.0" y="473.1" width="16.4" height="34.599999999999966" fill="#df8d18" />
<line x1="394.0" y1="494.3" x2="410.4" y2="494.3" stroke="#1a0f05" stroke-width="1.6" />
<line x1="402.2" y1="541.4" x2="402.2" y2="544.6" stroke="#303030" stroke-width="1" />
<text x="0" y="0" font-size="8.9" text-anchor="end" font-weight="normal"  fill="#231f20" stroke="#231f20" stroke-width="0.18" transform="translate(404.8,550.8) rotate(-45) scale(0.92,1)">CD8<tspan font-size="6.3" baseline-shift="3.5" dx="0.5">+</tspan></text>
<line x1="422.4" y1="487.1" x2="422.4" y2="514.4" stroke="#333" stroke-width="1.1" />
<line x1="418.0" y1="487.1" x2="426.79999999999995" y2="487.1" stroke="#333" stroke-width="1.1" />
<line x1="418.0" y1="514.4" x2="426.79999999999995" y2="514.4" stroke="#333" stroke-width="1.1" />
<rect x="414.2" y="491.1" width="16.4" height="10.699999999999989" fill="#df8d18" />
<line x1="414.2" y1="493.8" x2="430.59999999999997" y2="493.8" stroke="#1a0f05" stroke-width="1.6" />
<line x1="422.4" y1="541.4" x2="422.4" y2="544.6" stroke="#303030" stroke-width="1" />
<text x="0" y="0" font-size="8.9" text-anchor="end" font-weight="normal"  fill="#231f20" stroke="#231f20" stroke-width="0.18" transform="translate(425.0,550.8) rotate(-45) scale(0.92,1)">CD4<tspan font-size="6.3" baseline-shift="3.5" dx="0.5">+</tspan>/CD8<tspan font-size="6.3" baseline-shift="3.5" dx="0.5">+</tspan></text>
<rect x="0" y="0" width="1.2" height="597" fill="#000"/><rect x="518.8" y="0" width="1.2" height="597" fill="#000"/><rect x="0" y="0" width="520" height="1.5" fill="#000"/><rect x="0" y="595.4" width="520" height="1.6" fill="#000"/>
</svg>
</body></html>
